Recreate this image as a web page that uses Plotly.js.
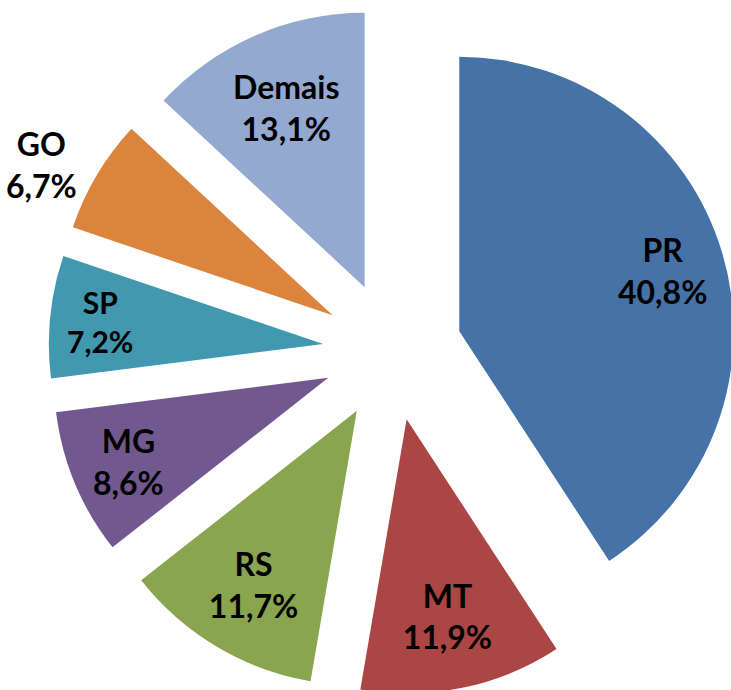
<!DOCTYPE html>
<html>
<head>
<meta charset="utf-8">
<script src="https://cdn.plot.ly/plotly-3.0.1.min.js"></script>
<style>
html, body { margin: 0; padding: 0; overflow: hidden; background: #fff; }
#chart { width: 785px; height: 695px; }
</style>
</head>
<body>
<div id="chart"></div>
<script>
const categories = ['PR', 'MT', 'RS', 'MG', 'SP', 'GO', 'Demais'];
const shares = [40.8, 11.9, 11.7, 8.6, 7.2, 6.7, 13.1];
const colors = ['#4572A7', '#AA4643', '#89A54E', '#71588F', '#4198AF', '#DB843D', '#93A9CF'];
const textPositions = ['none', 'inside', 'inside', 'inside', 'inside', 'outside', 'inside'];

const W = 785, H = 695;
const margin = { l: 0, r: 0, t: 7, b: 0 };
const pull = 0.254;
const labelFrac = 0.773;   // radial position of the big slice label (fraction of radius)
const fontFamily = 'Lato, "Open Sans", sans-serif';
const fontSize = 32;

function fmt(v) { return v.toFixed(1).replace('.', ',') + '%'; }

// label of the first (largest) slice, placed along its bisector from the data
const total = shares.reduce((a, b) => a + b, 0);
const plotW = W - margin.l - margin.r, plotH = H - margin.t - margin.b;
const rPx = Math.min(plotW, plotH) / 2 / (1 + pull);
const midAngle = (shares[0] / 2) / total * 2 * Math.PI;
const dist = rPx * (pull + labelFrac);
const annX = 0.5 + dist * Math.sin(midAngle) / plotW;
const annY = 0.5 + dist * Math.cos(midAngle) / plotH;

const trace = {
  type: 'pie',
  labels: categories,
  values: shares,
  sort: false,
  direction: 'clockwise',
  rotation: 0,
  pull: pull,
  marker: { colors: colors, line: { width: 0 } },
  texttemplate: '%{label}<br>%{value:.1f}%',
  textposition: textPositions,
  insidetextorientation: 'horizontal',
  textfont: { family: fontFamily, size: fontSize, color: '#000', weight: 'bold' },
  insidetextfont: { family: fontFamily, size: fontSize, color: '#000', weight: 'bold' },
  outsidetextfont: { family: fontFamily, size: fontSize, color: '#000', weight: 'bold' },
  hoverinfo: 'none',
  showlegend: false
};

const layout = {
  width: W,
  height: H,
  margin: margin,
  separators: ',.',
  paper_bgcolor: '#fff',
  showlegend: false,
  annotations: [{
    xref: 'paper', yref: 'paper',
    x: annX, y: annY,
    xanchor: 'center', yanchor: 'middle',
    showarrow: false,
    text: categories[0] + '<br>' + fmt(shares[0]),
    font: { family: fontFamily, size: fontSize, color: '#000', weight: 'bold' }
  }]
};

Plotly.newPlot('chart', [trace], layout, { staticPlot: true });
</script>
</body>
</html>
